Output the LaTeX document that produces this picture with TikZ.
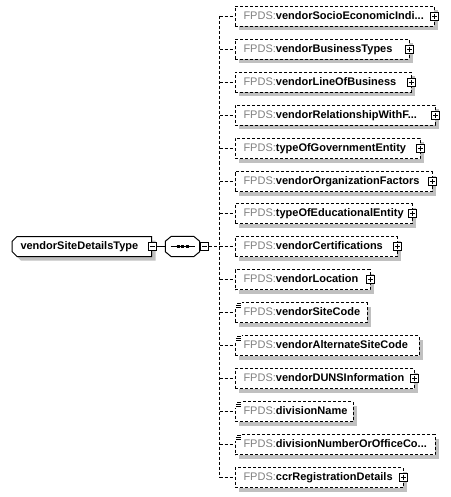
\documentclass[tikz,border=0pt]{standalone}
\usepackage{fontspec}
\setmainfont{Liberation Sans}
\usepackage{tikz}
\usetikzlibrary{positioning,shapes.misc,shadows}
\definecolor{fpdsgray}{HTML}{808080}
\definecolor{shadegray}{HTML}{C0C0C0}
\newcommand{\fpds}{\textcolor{fpdsgray}{FPDS:}}

\begin{document}
\begin{tikzpicture}[
  x=1pt, y=-1pt,
  font=\fontsize{11}{13}\selectfont,
  boxshadow/.style={drop shadow={shadow xshift=4pt, shadow yshift=-4pt,
                fill=shadegray, opacity=1}},
  elem/.style ={draw, line width=1pt, dash pattern=on 3pt off 2pt, fill=white,
                boxshadow, minimum height=20pt, inner xsep=8.5pt, inner ysep=0pt,
                text height=8pt, text depth=2.5pt, align=left, anchor=west},
  ctype/.style={chamfered rectangle, chamfered rectangle corners={north west,south west},
                chamfered rectangle xsep=2.5pt, chamfered rectangle ysep=2.5pt,
                draw, line width=1pt, fill=white, boxshadow, minimum height=20pt,
                inner xsep=6pt, inner ysep=0pt, text height=8pt, text depth=2.5pt,
                align=left, anchor=west},
  seqbox/.style={minimum width=34pt, minimum height=20pt, inner sep=0pt},
  btn/.style  ={draw, solid, line width=1pt, fill=white, minimum size=8pt, inner sep=0pt},
  plus/.style ={btn, path picture={
                  \draw[line width=1pt] ([xshift=-2.5pt]path picture bounding box.center)
                    -- ([xshift=2.5pt]path picture bounding box.center)
                    ([yshift=-2.5pt]path picture bounding box.center)
                    -- ([yshift=2.5pt]path picture bounding box.center);}},
  minus/.style={btn, path picture={
                  \draw[line width=1pt] ([xshift=-2.5pt]path picture bounding box.center)
                    -- ([xshift=2.5pt]path picture bounding box.center);}},
  leaf/.style ={fill=white, minimum width=7pt, minimum height=7pt, inner sep=0pt,
                anchor=north west, path picture={
                  \draw[line width=1pt]
                    ([xshift=2pt,yshift=-1.5pt]path picture bounding box.north west) -- ++(4,0)
                    ([xshift=1pt,yshift=-3.5pt]path picture bounding box.north west) -- ++(5,0)
                    ([xshift=1pt,yshift=-5.5pt]path picture bounding box.north west) -- ++(5,0);}},
  conn/.style ={line width=1pt},
  dconn/.style={conn, dash pattern=on 3pt off 2pt}
]
\useasboundingbox (0,0) rectangle (450,497);

% complex type and its sequence
\node[ctype, text width=122.5pt] (main) at (11.5,246.5) {\textbf{vendorSiteDetailsType}};
\node[minus] (main-x) at (main.east) {};
\node[seqbox] (seq) at (182.5,246.5) {};
\fill[shadegray, shift={(4,4)}]
  ([xshift=6pt]seq.north west) -- ([xshift=-6pt]seq.north east)
  -- ([yshift=-5pt]seq.north east) -- ([yshift=5pt]seq.south east)
  -- ([xshift=-6pt]seq.south east) -- ([xshift=6pt]seq.south west)
  -- ([yshift=5pt]seq.south west) -- ([yshift=-5pt]seq.north west) -- cycle;
\filldraw[conn, fill=white]
  ([xshift=6pt]seq.north west) -- ([xshift=-6pt]seq.north east)
  -- ([yshift=-5pt]seq.north east) -- ([yshift=5pt]seq.south east)
  -- ([xshift=-6pt]seq.south east) -- ([xshift=6pt]seq.south west)
  -- ([yshift=5pt]seq.south west) -- ([yshift=-5pt]seq.north west) -- cycle;
\draw[conn] ([xshift=-12pt]seq.center) -- ([xshift=12pt]seq.center);
\draw[line width=3pt, dash pattern=on 3pt off 1.5pt]
  ([xshift=-6pt]seq.center) -- ([xshift=6pt]seq.center);
\node[minus, anchor=west] (seq-x) at ([xshift=0.5pt]seq.east) {};
\coordinate (bus) at (219.5,246.5);

% child elements
\node[elem, text width=182pt] (socio)   at (234.5,16.5)  {\fpds\textbf{vendorSocioEconomicIndi...}};
\node[elem, text width=157pt] (busi)    at (234.5,49.5)  {\fpds\textbf{vendorBusinessTypes}};
\node[elem, text width=159pt] (line)    at (234.5,82.5)  {\fpds\textbf{vendorLineOfBusiness}};
\node[elem, text width=183pt] (rel)     at (234.5,115.5) {\fpds\textbf{vendorRelationshipWithF...}};
\node[elem, text width=168pt] (gov)     at (234.5,148.5) {\fpds\textbf{typeOfGovernmentEntity}};
\node[elem, text width=180pt] (org)     at (234.5,181.5) {\fpds\textbf{vendorOrganizationFactors}};
\node[elem, text width=160pt] (edu)     at (234.5,213.5) {\fpds\textbf{typeOfEducationalEntity}};
\node[elem, text width=145pt] (cert)    at (234.5,246.5) {\fpds\textbf{vendorCertifications}};
\node[elem, text width=118pt] (loc)     at (234.5,279.5) {\fpds\textbf{vendorLocation}};
\node[elem, text width=115pt] (site)    at (234.5,312.5) {\fpds\textbf{vendorSiteCode}};
\node[elem, text width=167pt] (alt)     at (234.5,345.5) {\fpds\textbf{vendorAlternateSiteCode}};
\node[elem, text width=162pt] (duns)    at (234.5,378.5) {\fpds\textbf{vendorDUNSInformation}};
\node[elem, text width=101pt] (divname) at (234.5,411.5) {\fpds\textbf{divisionName}};
\node[elem, text width=183pt] (divnum)  at (234.5,444.5) {\fpds\textbf{divisionNumberOrOfficeCo...}};
\node[elem, text width=151pt] (ccr)     at (234.5,477.5) {\fpds\textbf{ccrRegistrationDetails}};

% expand buttons
\node[plus] (socio-x) at (socio.east) {};
\node[plus] (busi-x)  at (busi.east) {};
\node[plus] (line-x)  at (line.east) {};
\node[plus] (rel-x)   at (rel.east) {};
\node[plus] (gov-x)   at (gov.east) {};
\node[plus] (org-x)   at (org.east) {};
\node[plus] (edu-x)   at (edu.east) {};
\node[plus] (cert-x)  at (cert.east) {};
\node[plus] (loc-x)   at (loc.east) {};
\node[plus] (duns-x)  at (duns.east) {};
\node[plus] (ccr-x)   at (ccr.east) {};

% simple-content marks
\node[leaf] (site-i)    at ([xshift=0.5pt]site.north west) {};
\node[leaf] (alt-i)     at ([xshift=0.5pt]alt.north west) {};
\node[leaf] (divname-i) at ([xshift=0.5pt]divname.north west) {};
\node[leaf] (divnum-i)  at ([xshift=0.5pt]divnum.north west) {};

\draw[conn]  (main-x) -- (seq);
\draw[dconn] (seq-x) -- (bus);
\draw[dconn] (bus |- socio.west) -- (bus |- ccr.west);
\draw[dconn] (bus |- socio.west) -- (socio);
\draw[dconn] (bus |- busi.west) -- (busi);
\draw[dconn] (bus |- line.west) -- (line);
\draw[dconn] (bus |- rel.west) -- (rel);
\draw[dconn] (bus |- gov.west) -- (gov);
\draw[dconn] (bus |- org.west) -- (org);
\draw[dconn] (bus |- edu.west) -- (edu);
\draw[dconn] (bus |- cert.west) -- (cert);
\draw[dconn] (bus |- loc.west) -- (loc);
\draw[dconn] (bus |- site.west) -- (site);
\draw[dconn] (bus |- alt.west) -- (alt);
\draw[dconn] (bus |- duns.west) -- (duns);
\draw[dconn] (bus |- divname.west) -- (divname);
\draw[dconn] (bus |- divnum.west) -- (divnum);
\draw[dconn] (bus |- ccr.west) -- (ccr);
\end{tikzpicture}
\end{document}
